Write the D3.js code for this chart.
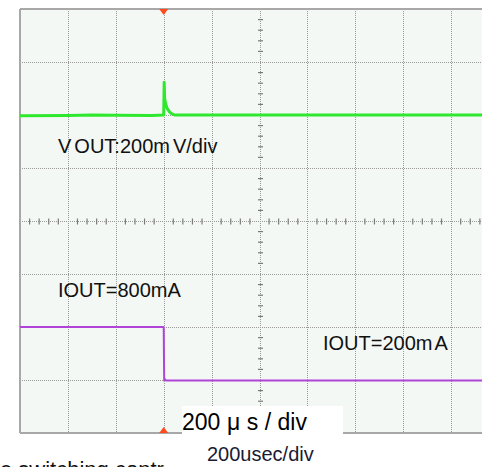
<!DOCTYPE html>
<html>
<head>
<meta charset="utf-8">
<script src="https://cdn.jsdelivr.net/npm/d3@7"></script>
<style>
  html, body { margin: 0; padding: 0; background: #ffffff; }
  svg { display: block; }
  text { font-family: "Liberation Sans", Arial, sans-serif; }
</style>
</head>
<body>
<svg id="scope" width="482" height="467"></svg>
<script>
// Time base: 200 us/div, trigger at t = 0
const timeDomain = [-600, 1400];          // us across 10 divisions
const divDomain = [-4, 4];                 // 8 vertical divisions
const timeGrid = d3.range(-600, 1401, 200);
const divGrid = d3.range(-4, 4.01, 1);

// VOUT (200 mV/div), deviation from nominal, channel placed at +2 div
const voutScale = 200;
const voutOffsetDiv = 2;
const voutTime = [-600, -400, -300, -200, -50, 0, 2, 4, 8, 15, 25, 35, 45, 400, 1400];
const voutMv   = [-3, -2, 0, -1, -2, 0, 124, 62, 42, 24, 11, 4, 0, 0, 0];

// IOUT load step 800 mA -> 200 mA at the trigger (600 mA/div)
const ioutScale = 600;
const ioutZeroDiv = -2 - 800 / ioutScale;
const ioutTime = [-600, -1, 0, 2, 6, 10, 1400];
const ioutMa   = [800, 800, 790, 200, 205, 193, 193];

// label pieces; a small gap is drawn between consecutive pieces
const voutLabel = ["V", "OUT:200m", "V/div"];
const ioutHighLabel = ["IOUT=800mA"];
const ioutLowLabel = ["IOUT=200m", "A"];
const timebaseLabel = ["200", "\u03bc", "s", "/", "div"];
const captionLabel = "200usec/div";
const footerLabel = "e switching contr";

const svg = d3.select("#scope");
const x = d3.scaleLinear().domain(timeDomain).range([20, 499]);
const y = d3.scaleLinear().domain(divDomain).range([433, 9]);

// screen background
svg.append("rect")
  .attr("x", x(timeDomain[0])).attr("y", y(divDomain[1]))
  .attr("width", x(timeDomain[1]) - x(timeDomain[0]))
  .attr("height", y(divDomain[0]) - y(divDomain[1]))
  .attr("fill", "#f4f8f4");

// dotted graticule
const grid = svg.append("g").attr("stroke", "#9a9a9a").attr("stroke-width", 1)
  .attr("stroke-dasharray", "1,1").attr("shape-rendering", "crispEdges");
grid.selectAll(".gv").data(timeGrid.slice(1, -1)).join("line")
  .attr("x1", d => Math.round(x(d)) + 0.5).attr("x2", d => Math.round(x(d)) + 0.5)
  .attr("y1", y(divDomain[1])).attr("y2", y(divDomain[0]));
grid.selectAll(".gh").data(divGrid.slice(1, -1)).join("line")
  .attr("y1", d => Math.round(y(d)) + 0.5).attr("y2", d => Math.round(y(d)) + 0.5)
  .attr("x1", x(timeDomain[0])).attr("x2", x(timeDomain[1]));

// minor ticks on the centre axes (5 per division)
const cx = Math.round(x(400)) + 0.5, cy = Math.round(y(0)) + 0.5;
const minorT = d3.range(-600, 1400.1, 40).filter(t => t % 200 !== 0);
const minorV = d3.range(-4, 4.01, 0.2).filter(v => Math.abs(v - Math.round(v)) > 1e-6);
const ticks = svg.append("g").attr("stroke", "#7a7a7a").attr("stroke-width", 1.2);
ticks.selectAll(".tx").data(minorT).join("line")
  .attr("x1", d => x(d)).attr("x2", d => x(d))
  .attr("y1", cy - 3).attr("y2", cy + 3);
ticks.selectAll(".ty").data(minorV).join("line")
  .attr("y1", d => y(d)).attr("y2", d => y(d))
  .attr("x1", cx - 2.5).attr("x2", cx + 2.5);

// screen frame: top, left, bottom
const frame = svg.append("g").attr("stroke", "#a8a8a8").attr("stroke-width", 2);
frame.append("line").attr("x1", x(timeDomain[0])).attr("x2", 482)
  .attr("y1", y(divDomain[1])).attr("y2", y(divDomain[1]));
frame.append("line").attr("x1", x(timeDomain[0])).attr("x2", x(timeDomain[0]))
  .attr("y1", y(divDomain[1])).attr("y2", y(divDomain[0]));
frame.append("line").attr("x1", x(timeDomain[0])).attr("x2", 482)
  .attr("y1", y(divDomain[0])).attr("y2", y(divDomain[0]));

// traces
const line = d3.line().x(d => x(d[0])).y(d => y(d[1]));
const voutPts = voutTime.map((t, i) => [t, voutOffsetDiv + voutMv[i] / voutScale]);
const ioutPts = ioutTime.map((t, i) => [t, ioutZeroDiv + ioutMa[i] / ioutScale]);
svg.append("path").attr("d", line(voutPts)).attr("fill", "none")
  .attr("stroke", "#2ee82e").attr("stroke-width", 3).attr("stroke-linejoin", "round");
svg.append("path").attr("d", line(ioutPts)).attr("fill", "none")
  .attr("stroke", "#b044d8").attr("stroke-width", 2);

// trigger position markers
const tx0 = x(0);
svg.append("path").attr("fill", "#ff4b1e")
  .attr("d", `M${tx0 - 4.5},${y(4)} L${tx0 + 4.5},${y(4)} L${tx0},${y(4) + 6}Z`);
svg.append("path").attr("fill", "#ff4b1e")
  .attr("d", `M${tx0 - 4.5},${y(-4)} L${tx0 + 4.5},${y(-4)} L${tx0},${y(-4) - 6}Z`);

// text made of pieces separated by a small gap
function pieces(px, py, size, fill, parts, gap) {
  const t = svg.append("text").attr("x", px).attr("y", py)
    .attr("font-size", size).attr("fill", fill);
  parts.forEach((p, i) => {
    t.append("tspan").attr("dx", i ? gap : 0).text(p);
  });
  return t;
}

// channel annotations
pieces(58, 153, 20, "#111", voutLabel, 3);
pieces(58, 297, 20, "#111", ioutHighLabel, 0);
pieces(323, 350, 20, "#111", ioutLowLabel, 2);

// time base box
svg.append("rect").attr("x", 182).attr("y", 406).attr("width", 161).attr("height", 36)
  .attr("fill", "#ffffff");
pieces(182, 430, 23, "#000", timebaseLabel, 6.5);
svg.append("text").attr("x", 207).attr("y", 461).attr("font-size", 20).attr("fill", "#1a1a33")
  .text(captionLabel);
svg.append("text").attr("x", 0).attr("y", 477).attr("font-size", 22).attr("fill", "#111")
  .text(footerLabel);
</script>
</body>
</html>
